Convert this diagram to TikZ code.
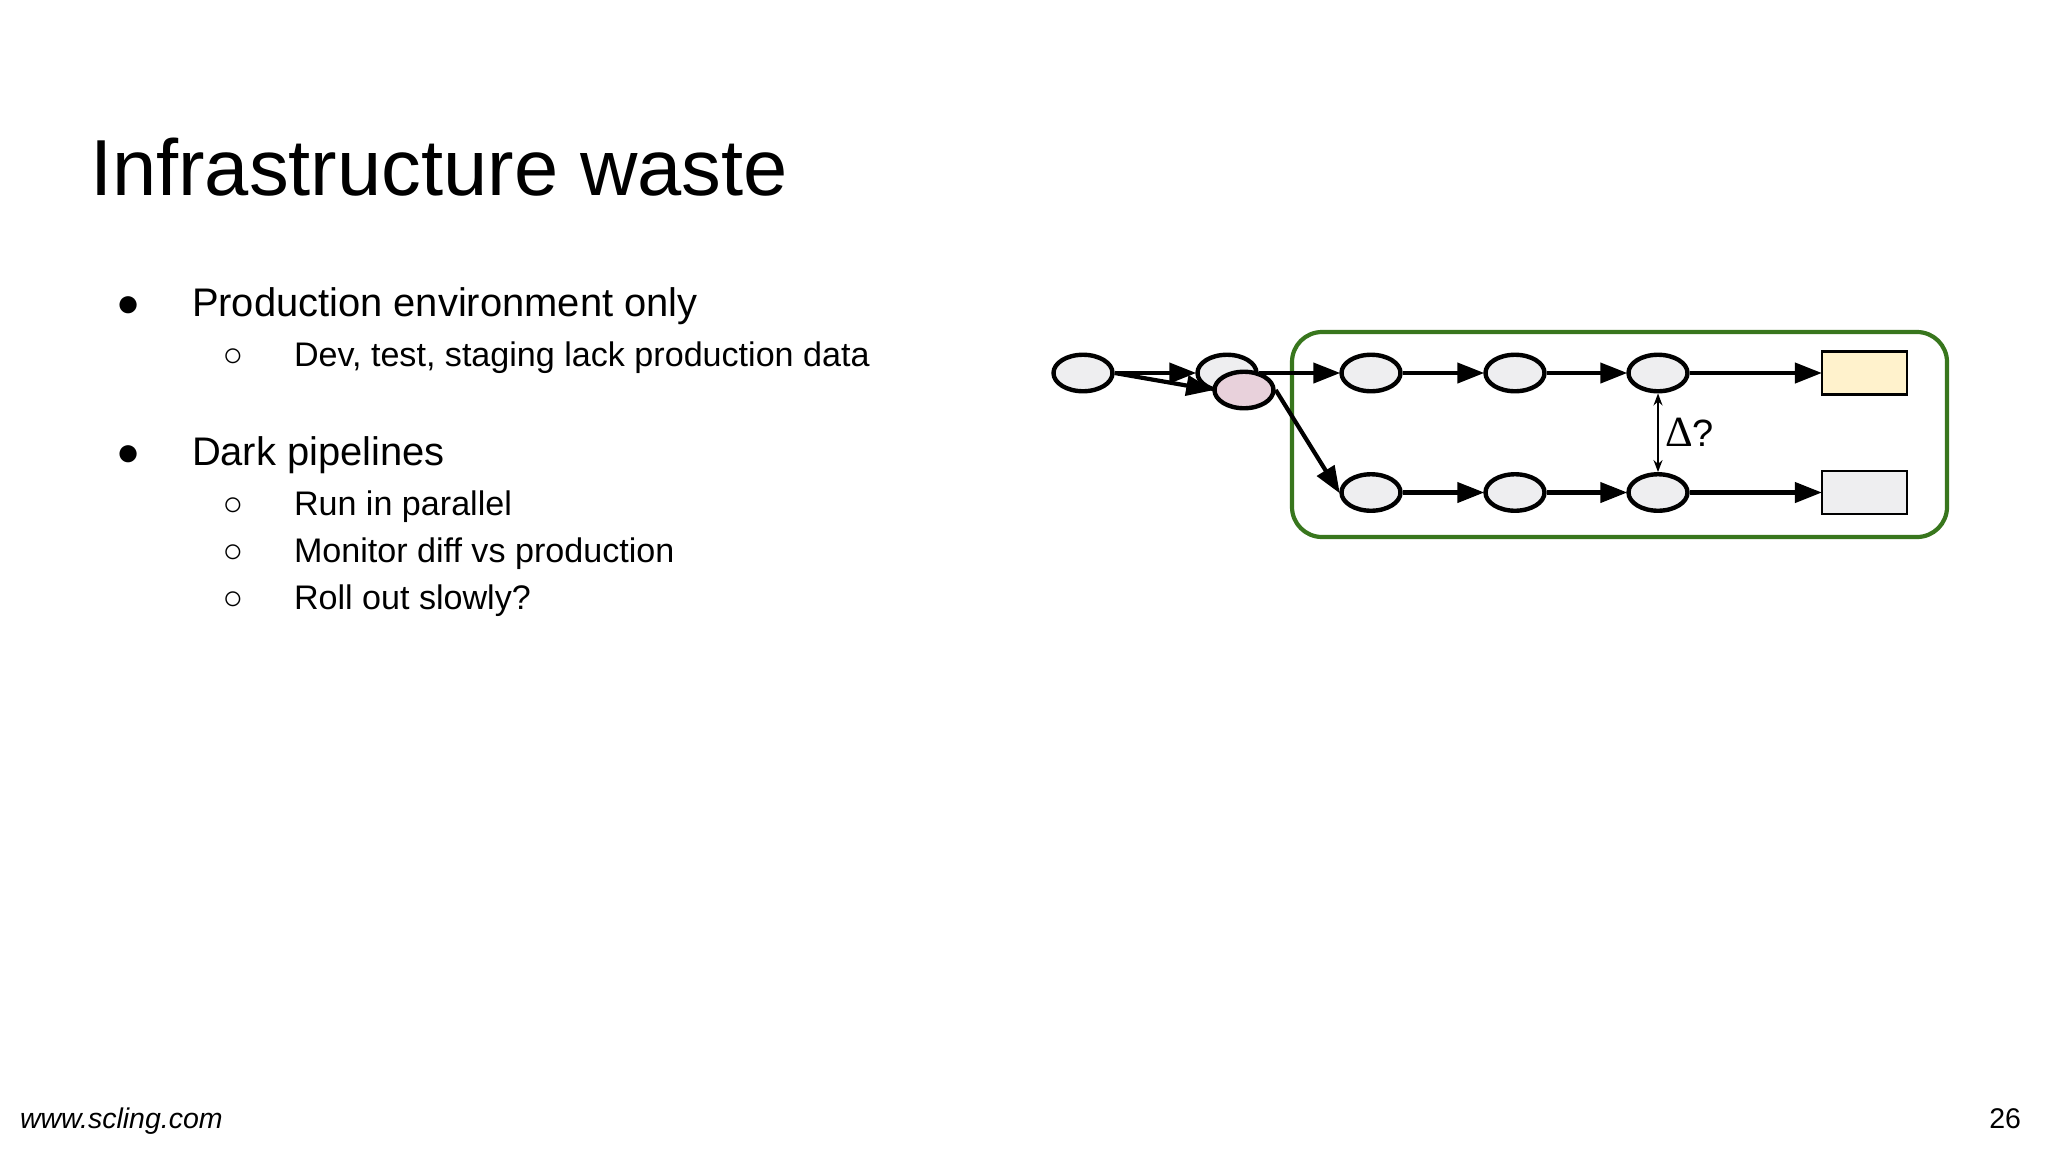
\documentclass[tikz,border=0pt]{standalone}
\usepackage{fontspec}
\setmainfont{Liberation Sans}
\newfontfamily\deltafont{Liberation Serif}
\usetikzlibrary{shapes.geometric,arrows.meta}
\tikzset{
  x=1pt,y=-1pt,
  job/.style={ellipse,draw=black,line width=4.4pt,fill=#1,minimum width=59pt,minimum height=36.5pt,inner sep=0pt},
  job/.default={jobgrey},
  dataset/.style={rectangle,draw=black,line width=2.2pt,fill=#1,minimum width=85pt,minimum height=43pt,inner sep=0pt},
  flow/.style={line width=4.2pt,-{Triangle[length=27pt,width=20pt]},shorten >=-1pt},
  diff/.style={line width=1.6pt,{Stealth[length=12pt,width=9pt]}-{Stealth[length=12pt,width=9pt]}},
  frame/.style={draw=framegreen,line width=4.2pt,rounded corners=30pt},
  txt/.style={anchor=base west,inner sep=0pt,outer sep=0pt,text=black},
  title/.style={txt,font=\fontsize{79.5}{79.5}\selectfont},
  lone/.style={txt,font=\fontsize{39.9}{40}\selectfont},
  ltwo/.style={txt,font=\fontsize{34.1}{34.5}\selectfont},
  foot/.style={inner sep=0pt,outer sep=0pt,text=black,font=\fontsize{28.5}{28.5}\selectfont}
}
\definecolor{jobgrey}{HTML}{EEEEF0}
\definecolor{pinkjob}{HTML}{E8D1DB}
\definecolor{creamset}{HTML}{FFF2CC}
\definecolor{framegreen}{HTML}{38761D}
\begin{document}
\begin{tikzpicture}
\useasboundingbox (0,0) rectangle (2048,1152);
\fill[white] (0,0) rectangle (2048,1152);
\node[title] (ttl) at (90,195.5) {Infrastructure waste};
\node[lone] (b1) at (116.5,316) {●};
\node[lone] (t1) at (192,316) {Production environment only};
\node[ltwo] (b2) at (222.5,366) {○};
\node[ltwo] (t2) at (294,366) {Dev, test, staging lack production data};
\node[lone] (b3) at (116.5,465) {●};
\node[lone] (t3) at (192,465) {Dark pipelines};
\node[ltwo] (b4) at (222.5,515) {○};
\node[ltwo] (t4) at (294,515) {Run in parallel};
\node[ltwo] (b5) at (222.5,562) {○};
\node[ltwo] (t5) at (294,562) {Monitor diff vs production};
\node[ltwo] (b6) at (222.5,609) {○};
\node[ltwo] (t6) at (294,609) {Roll out slowly?};
\node[foot,anchor=base west] (web) at (20,1128) {\itshape www.scling.com};
\node[foot,anchor=base east] (pg) at (2021,1128) {26};

\draw[frame] (1292,332) rectangle (1947,537);
\node[job] (a) at (1083,373) {};
\node[job] (b) at (1227,373) {};
\node[job] (c1) at (1371,373) {};
\node[job] (c2) at (1515,373) {};
\node[job] (c3) at (1658,373) {};
\node[dataset=creamset] (r1) at (1864.5,373) {};
\node[job] (d1) at (1371,492.5) {};
\node[job] (d2) at (1515,492.5) {};
\node[job] (d3) at (1658,492.5) {};
\node[dataset=jobgrey] (r2) at (1864.5,492.5) {};
\draw[flow] (a.east) -- (b.west);
\draw[flow] (b.east) -- (c1.west);
\draw[flow] (c1.east) -- (c2.west);
\draw[flow] (c2.east) -- (c3.west);
\draw[flow] (c3.east) -- (r1.west);
\draw[flow] (d1.east) -- (d2.west);
\draw[flow] (d2.east) -- (d3.west);
\draw[flow] (d3.east) -- (r2.west);
\node[job=pinkjob] (p) at (1244,390) {};
\draw[flow] (a.east) -- (p.west);
\draw[flow] (p.east) -- (d1.west);
\draw[diff] (c3.south) -- (d3.north);
\node[txt,font=\fontsize{38}{38}\selectfont] (lbl) at (1665,446) {{\deltafont\fontsize{43}{43}\selectfont Δ}?};
\end{tikzpicture}
\end{document}
